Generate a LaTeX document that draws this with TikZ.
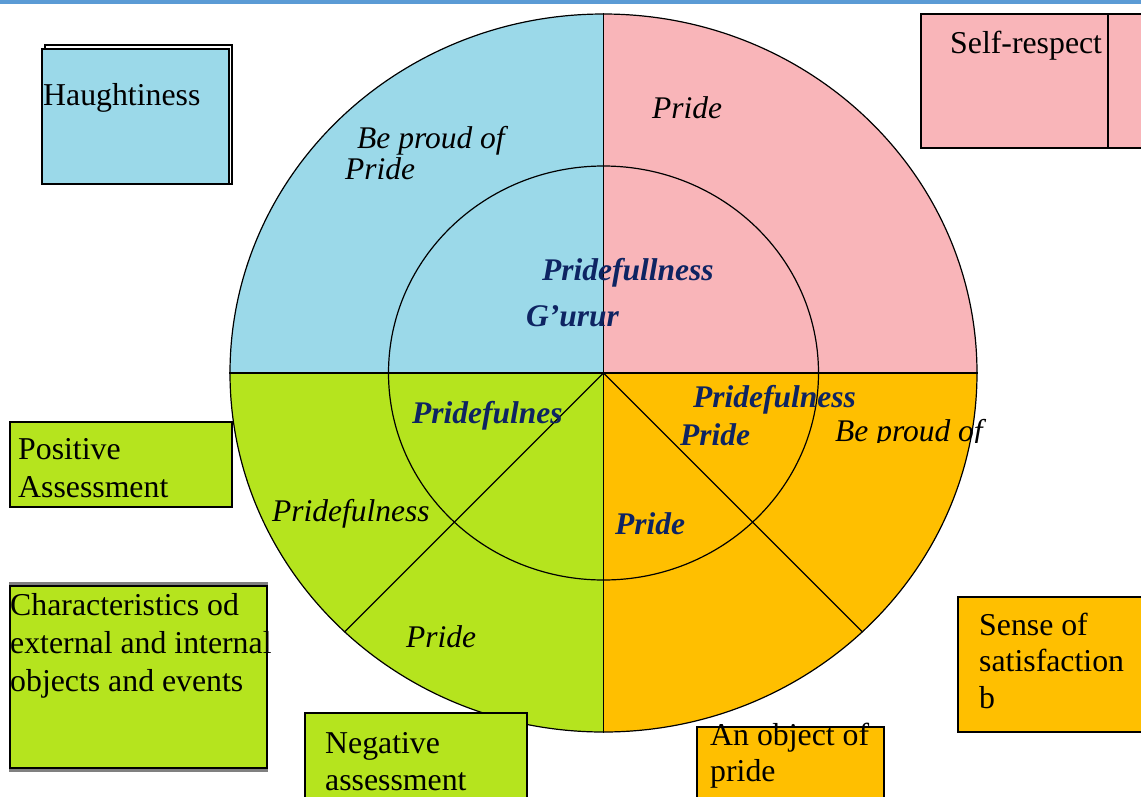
\documentclass[tikz,border=0pt]{standalone}
\usepackage{fontspec}
\setmainfont{Liberation Serif}
\usetikzlibrary{shapes.geometric, positioning}
\definecolor{prideblue}{RGB}{155,217,233}
\definecolor{pridepink}{RGB}{249,181,185}
\definecolor{pridegreen}{RGB}{181,228,30}
\definecolor{prideorange}{RGB}{255,191,0}
\definecolor{pridenavy}{RGB}{14,36,98}
\definecolor{topbar}{RGB}{91,155,213}
\tikzstyle{box} = [rectangle, draw=black, line width=1.2pt, anchor=north west, inner sep=0pt, outer sep=0pt]
\tikzstyle{txt} = [anchor=base west, inner sep=0pt, align=left, font=\fontsize{31.8}{38}\selectfont]
\tikzstyle{ital} = [txt, font=\fontsize{31.5}{38}\selectfont\itshape]
\tikzstyle{core} = [txt, text=pridenavy, font=\fontsize{31.5}{38}\selectfont\bfseries\itshape]
\tikzstyle{ring} = [ellipse, draw=black, line width=1.2pt, inner sep=0pt]

\begin{document}
\begin{tikzpicture}[x=1pt, y=-1pt]
\useasboundingbox (0,0) rectangle (1141,796);
\fill[topbar] (0,0) rectangle (1141,4);

% Quadrants
\coordinate (c) at (603.5,373);
\fill[prideblue] (c) -- ++(-373.5,0) arc[start angle=180, end angle=270, x radius=373.5, y radius=359] -- cycle;
\fill[pridepink] (c) -- ++(0,-359) arc[start angle=270, end angle=360, x radius=373.5, y radius=359] -- cycle;
\fill[prideorange] (c) -- ++(373.5,0) arc[start angle=0, end angle=90, x radius=373.5, y radius=359] -- cycle;
\fill[pridegreen] (c) -- ++(0,359) arc[start angle=90, end angle=180, x radius=373.5, y radius=359] -- cycle;

% Rings and dividers
\node[ring, minimum width=430pt, minimum height=414pt] (inner) at (c) {};
\node[ring, minimum width=747pt, minimum height=718pt] (outer) at (c) {};
\draw[line width=1.2pt] (outer.north) -- (outer.south);
\draw[line width=1.2pt] (outer.west) -- (outer.east);
\draw[line width=1.2pt] (c) -- (outer.225);
\draw[line width=1.2pt] (c) -- (outer.315);

% Words in the circle
\node[ital] (pr1) at (652,118) {Pride};
\node[ital] (bp1) at (357,148) {Be proud of};
\node[ital] (pr2) at (345,179) {Pride};
\node[core] (pf1) at (542,280) {Pridefullness};
\node[core] (gur) at (526,326) {G’urur};
\node[core] (pf2) at (412,423) {Pridefulnes};
\node[core] (pf3) at (693,407) {Pridefulness};
\node[core] (pr3) at (680,445) {Pride};
\begin{scope}
\clip (820,395) rectangle (995,442);
\node[ital] (bp2) at (835,441) {Be proud of};
\end{scope}
\node[ital] (pf4) at (272,521) {Pridefulness};
\node[core] (pr4) at (615,534) {Pride};
\node[ital] (pr5) at (406,647) {Pride};

% Boxes round the circle (text nodes sit on the baseline of their last line)
\node[box, fill=white, minimum width=187pt, minimum height=139pt] (haughtback) at (45,45) {};
\node[box, fill=prideblue, minimum width=187pt, minimum height=135pt] (haught) at (42,49) {};
\node[txt] (haughttxt) at (43,105) {Haughtiness};

\node[box, fill=pridepink, minimum width=60pt, minimum height=134pt] (selfback) at (1108,14) {};
\node[box, fill=pridepink, minimum width=187pt, minimum height=134pt] (self) at (921,14) {};
\node[txt] (selftxt) at (950,53) {Self-respect};

\node[box, fill=pridegreen, minimum width=222pt, minimum height=85pt] (pos) at (10,422) {};
\node[txt] (postxt) at (18,497) {Positive\\Assessment};

\node[box, draw=gray, fill=gray, minimum width=257pt, minimum height=188pt] (charback) at (10,583) {};
\node[box, fill=pridegreen, minimum width=257pt, minimum height=182pt] (char) at (10,586) {};
\node[txt] (chartxt) at (10,691) {Characteristics od\\external and internal\\objects and events};

\node[box, fill=pridegreen, minimum width=222pt, minimum height=95pt] (neg) at (305,713) {};
\node[txt, font=\fontsize{31.8}{37}\selectfont] (negtxt) at (325,790) {Negative\\assessment};

\node[box, fill=prideorange, minimum width=187pt, minimum height=80pt] (obj) at (697,727) {};
\node[txt, font=\fontsize{31.8}{36}\selectfont] (objtxt) at (710,781) {An object of\\pride};

\node[box, fill=prideorange, minimum width=200pt, minimum height=135pt] (sense) at (958,597) {};
\node[txt, font=\fontsize{31.8}{36.5}\selectfont] (sensetxt) at (979,708) {Sense of\\satisfaction\\b};
\end{tikzpicture}
\end{document}
